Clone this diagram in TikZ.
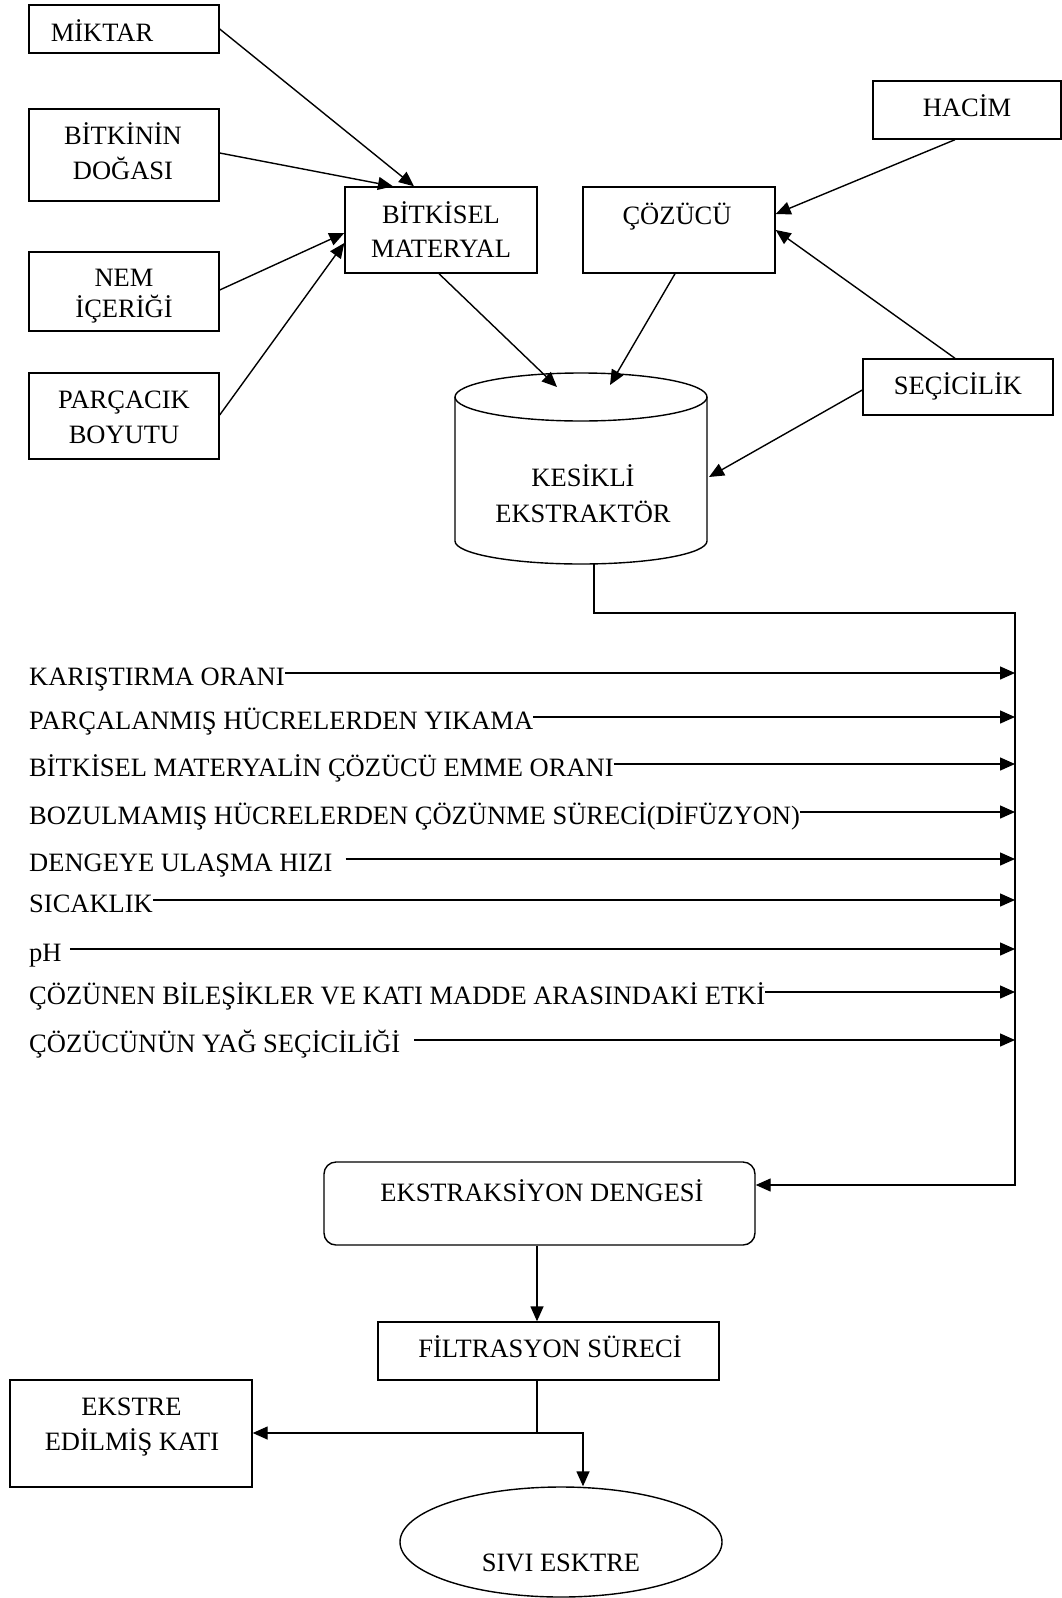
\documentclass[tikz,border=0pt]{standalone}
\usepackage{fontspec}
\setmainfont{Liberation Serif}
\usetikzlibrary{arrows.meta,shapes.geometric}
\begin{document}
\begin{tikzpicture}[x=1pt,y=-1pt,
  every node/.style={font=\fontsize{26.5}{35}\selectfont},
  box/.style={draw, line width=1.4pt, inner sep=0pt},
  txt/.style={inner sep=0pt, anchor=base},
  lbl/.style={inner sep=0pt, anchor=base west, text height=24pt, text depth=0pt},
  arr/.style={line width=1.4pt, -{Triangle[length=15pt,width=13pt]}},
  ln/.style={line width=1.4pt}]
\useasboundingbox (0,0) rectangle (1062,1598);

% ---- top-left inputs
\node[box, minimum width=190pt, minimum height=48pt] (miktar) at (124,29) {};
\node[txt] (miktarT) at (102,41) {MİKTAR};
\node[box, minimum width=190pt, minimum height=92pt] (dogasi) at (124,155) {};
\node[txt] (dogasiT1) at (123,144) {BİTKİNİN};
\node[txt] (dogasiT2) at (123,179) {DOĞASI};
\node[box, minimum width=190pt, minimum height=79pt] (nem) at (124,291.5) {};
\node[txt] (nemT1) at (124,286) {NEM};
\node[txt] (nemT2) at (124,317) {İÇERİĞİ};
\node[box, minimum width=190pt, minimum height=86pt] (parcacik) at (124,416) {};
\node[txt] (parcacikT1) at (124,408) {PARÇACIK};
\node[txt] (parcacikT2) at (124,443) {BOYUTU};

% ---- materials
\node[box, minimum width=192pt, minimum height=86pt] (bm) at (441,230) {};
\node[txt] (bmT1) at (441,223) {BİTKİSEL};
\node[txt] (bmT2) at (441,257) {MATERYAL};
\node[box, minimum width=192pt, minimum height=86pt] (coz) at (679,230) {};
\node[txt] (cozT) at (677,224) {ÇÖZÜCÜ};
\node[box, minimum width=188pt, minimum height=58pt] (hacim) at (967,110) {};
\node[txt] (hacimT) at (967,116) {HACİM};
\node[box, minimum width=190pt, minimum height=56pt] (sec) at (958,387) {};
\node[txt] (secT) at (958,394) {SEÇİCİLİK};

% ---- cylinder (batch extractor)
\node[inner sep=0pt, minimum width=252pt, minimum height=192pt] (cyl) at (581,469) {};
\draw[ln] (455,397) -- (455,541) arc[start angle=180, end angle=360, x radius=126pt, y radius=23pt] -- (707,397);
\draw[ln] (581,397) ellipse [x radius=126pt, y radius=24pt];
\node[txt] (cylT1) at (583,486) {KESİKLİ};
\node[txt] (cylT2) at (583,522) {EKSTRAKTÖR};
\coordinate (ctop1) at (557,387);
\coordinate (ctop2) at (610,385);
\coordinate (cside) at (709,477);
\coordinate (cb) at (594,563);

% ---- arrows top
\draw[arr] (miktar.east) -- ([xshift=-27pt]bm.north);
\draw[arr] ([yshift=2pt]dogasi.east) -- ([xshift=-48pt]bm.north);
\draw[arr] ([yshift=1.5pt]nem.east) -- ([yshift=-3pt]bm.west);
\draw[arr] ([yshift=1pt]parcacik.east) -- ([yshift=-13pt]bm.west);
\draw[arr] ([xshift=-2pt]bm.south) -- (ctop1);
\draw[arr] ([xshift=-4pt]coz.south) -- (ctop2);
\draw[arr] ([xshift=-12pt]hacim.south) -- ([yshift=16pt]coz.east);
\draw[arr] ([xshift=-3pt]sec.north) -- (coz.east);
\draw[arr] ([yshift=-3pt]sec.west) -- (cside);

% ---- collector line
\coordinate (ra) at (1015,613);
\coordinate (rb) at (1015,1185);
\node[box, rounded corners=12pt, minimum width=431pt, minimum height=83pt] (denge) at (539.5,1203.5) {};
\node[txt] (dengeT) at (542,1201) {EKSTRAKSİYON DENGESİ};
\draw[arr] (cb) |- (ra) -- (rb) -- (denge.east |- rb);

% ---- factors
\node[lbl] (k1) at (29,685) {KARIŞTIRMA ORANI};
\node[lbl] (k2) at (29,729) {PARÇALANMIŞ HÜCRELERDEN YIKAMA};
\node[lbl] (k3) at (29,776) {BİTKİSEL MATERYALİN ÇÖZÜCÜ EMME ORANI};
\node[lbl] (k4) at (29,824) {BOZULMAMIŞ HÜCRELERDEN ÇÖZÜNME SÜRECİ(DİFÜZYON)};
\node[lbl] (k5) at (29,871) {DENGEYE ULAŞMA HIZI};
\node[lbl] (k6) at (29,912) {SICAKLIK};
\node[lbl] (k7) at (29,961) {pH};
\node[lbl] (k8) at (29,1004) {ÇÖZÜNEN BİLEŞİKLER VE KATI MADDE ARASINDAKİ ETKİ};
\node[lbl] (k9) at (29,1052) {ÇÖZÜCÜNÜN YAĞ SEÇİCİLİĞİ};
\draw[arr] (k1.east) -- (k1.east -| ra);
\draw[arr] (k2.east) -- (k2.east -| ra);
\draw[arr] (k3.east) -- (k3.east -| ra);
\draw[arr] (k4.east) -- (k4.east -| ra);
\draw[arr] ([xshift=13pt]k5.east) -- (k5.east -| ra);
\draw[arr] (k6.east) -- (k6.east -| ra);
\draw[arr] ([xshift=8pt]k7.east) -- (k7.east -| ra);
\draw[arr] (k8.east) -- (k8.east -| ra);
\draw[arr] ([xshift=14pt]k9.east) -- (k9.east -| ra);

% ---- bottom
\node[box, minimum width=341pt, minimum height=58pt] (filt) at (548.5,1351) {};
\node[txt] (filtT) at (550,1357) {FİLTRASYON SÜRECİ};
\node[box, minimum width=242pt, minimum height=107pt] (ekstre) at (131,1433.5) {};
\node[txt] (ekstreT1) at (131.5,1415) {EKSTRE};
\node[txt] (ekstreT2) at (132,1450) {EDİLMİŞ KATI};
\node[box, ellipse, minimum width=322pt, minimum height=110pt] (sivi) at (561,1542) {};
\node[txt] (siviT) at (561,1571) {SIVI ESKTRE};
\coordinate (fj) at (537,1433);
\coordinate (fr) at (583,1433);
\draw[arr] ([xshift=-2.5pt]denge.south) -- ([xshift=-2.5pt]denge.south |- filt.north);
\draw[ln] ([xshift=-11.5pt]filt.south) -- (fj);
\draw[arr] (fj) -- (ekstre.east |- fj);
\draw[arr] (fj) -- (fr) -- (fr |- sivi.north);
\end{tikzpicture}
\end{document}
